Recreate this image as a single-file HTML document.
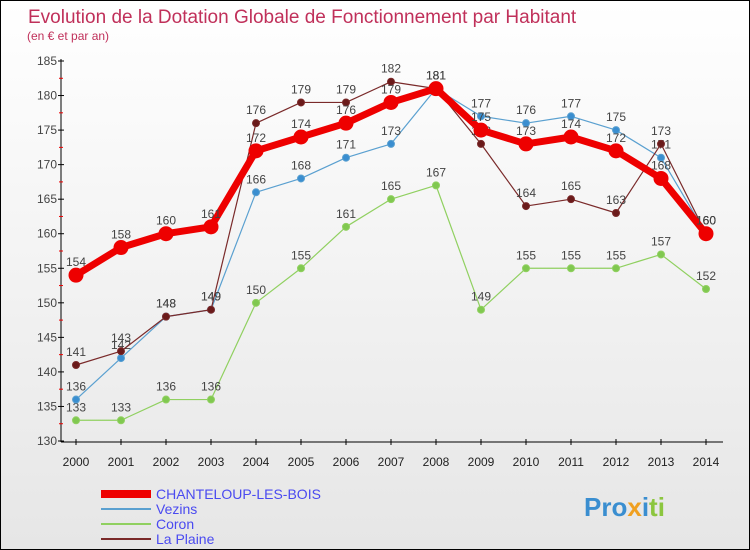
<!DOCTYPE html>
<html><head><meta charset="utf-8"><style>
body{margin:0}
#c{width:750px;height:550px;position:relative;box-sizing:border-box;border:1px solid #000;background:linear-gradient(#fff,#e6e6e6);font-family:"Liberation Sans",sans-serif;overflow:hidden}
</style></head><body>
<div id="c">
<svg id="s" width="748" height="548" style="position:absolute;left:0;top:0" font-family="Liberation Sans, sans-serif">
<text x="27" y="22" font-size="19" fill="#c0305a">Evolution de la Dotation Globale de Fonctionnement par Habitant</text>
<text x="26" y="39" font-size="12" fill="#c0305a">(en € et par an)</text>
<g id="axes"></g><g id="series"></g><g id="legend"></g>
<text x="583" y="515" font-size="26" font-weight="bold"><tspan fill="#3a8ed0">Pro</tspan><tspan fill="#f0a020">x</tspan><tspan fill="#3a8ed0">i</tspan><tspan fill="#8cc63f">ti</tspan></text>
</svg>
</div>
<script>
const years=[2000,2001,2002,2003,2004,2005,2006,2007,2008,2009,2010,2011,2012,2013,2014];
const yTicks=[130,135,140,145,150,155,160,165,170,175,180,185];
const chanteloup=[154,158,160,161,172,174,176,179,181,175,173,174,172,168,160];
const vezins=[136,142,148,149,166,168,171,173,181,177,176,177,175,171,160];
const coron=[133,133,136,136,150,155,161,165,167,149,155,155,155,157,152];
const laPlaine=[141,143,148,149,176,179,179,182,181,173,164,165,163,173,160];
const seriesNames=["CHANTELOUP-LES-BOIS","Vezins","Coron","La Plaine"];
const NS="http://www.w3.org/2000/svg";
const X=i=>75+i*45, Y=v=>440-(v-130)*380/55;
function mk(t,a,p){const e=document.createElementNS(NS,t);for(const k in a)e.setAttribute(k,a[k]);p.appendChild(e);return e;}
const ax=document.getElementById('axes');
let l=mk('line',{x1:60,y1:58,x2:60,y2:441,stroke:'#000'},ax);


l=mk('line',{x1:60,y1:441,x2:722,y2:441,stroke:'#000'},ax);


yTicks.forEach((v,i)=>{
 mk('line',{x1:57,y1:Y(v),x2:63,y2:Y(v),stroke:'#000'},ax);
 if(i<yTicks.length-1)mk('line',{x1:58,y1:Y(v+2.5),x2:62,y2:Y(v+2.5),stroke:'#e00'},ax);
 const t=mk('text',{x:56,y:Y(v)+4,'font-size':12,fill:'#444','text-anchor':'end'},ax);t.textContent=v;
 
 
});
years.forEach((y,i)=>{
 mk('line',{x1:X(i),y1:438,x2:X(i),y2:444,stroke:'#000'},ax);
 const t=mk('text',{x:X(i),y:465,'font-size':12,fill:'#222','text-anchor':'middle'},ax);t.textContent=y;
 
 
});
const sg=document.getElementById('series');
function draw(data,color,w,r,dot,name){
 const g=mk('g',{},sg);
 
 
 mk('polyline',{points:data.map((v,i)=>X(i)+','+Y(v)).join(' '),fill:'none',stroke:color,'stroke-width':w,'stroke-linejoin':'round'},g);
 data.forEach((v,i)=>{
  mk('circle',{cx:X(i),cy:Y(v),r:r,fill:dot,stroke:color,'stroke-width':1},g);
  const t=mk('text',{x:X(i),y:Y(v)-9,'font-size':12,fill:'#444','text-anchor':'middle'},g);t.textContent=v;
 });
}
draw(coron,'#90d060',1.2,3.5,'#80c850','series-coron');
draw(vezins,'#5aa0d0',1.2,3.5,'#3a8ed0','series-vezins');
draw(laPlaine,'#7a2a2a',1.2,3.5,'#6a1a1a','series-la-plaine');
draw(chanteloup,'#ee0000',7,7,'#ee0000','series-chanteloup');
const lg=document.getElementById('legend');
const lc=[['#ee0000',8],['#5aa0d0',2],['#90d060',2],['#7a2a2a',2]];
seriesNames.forEach((n,i)=>{
 const y=493+i*15;
 mk('line',{x1:100,y1:y,x2:150,y2:y,stroke:lc[i][0],'stroke-width':lc[i][1]},lg);
 const t=mk('text',{x:155,y:y+5,'font-size':14,fill:'#4a4af0'},lg);t.textContent=n;
 
 
});
</script>
</body></html>
